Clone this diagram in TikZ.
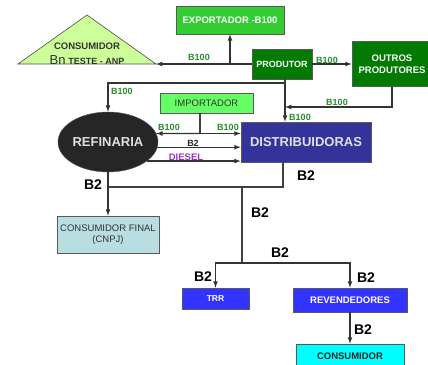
\documentclass[tikz,border=0pt]{standalone}
\usepackage{fontspec}
\setmainfont{Liberation Sans}
\usetikzlibrary{shapes.geometric}
\definecolor{verdeesc}{RGB}{0,122,0}
\definecolor{verdemed}{RGB}{51,204,51}
\definecolor{verdecla}{RGB}{102,255,102}
\definecolor{verdetri}{RGB}{204,255,153}
\definecolor{rotverde}{RGB}{40,140,40}
\definecolor{azulesc}{RGB}{51,51,153}
\definecolor{azul}{RGB}{51,51,255}
\definecolor{azulcla}{RGB}{184,222,226}
\definecolor{ciano}{RGB}{0,255,255}
\definecolor{roxo}{RGB}{153,51,204}
\tikzset{
  caixa/.style={draw=black!65, line width=0.6pt, inner sep=0pt, align=center},
  seta/.style={-latex, line width=1.2pt, draw=black!80},
  linha/.style={line width=1.2pt, draw=black!75},
  rot/.style={font=\bfseries\fontsize{9}{10}\selectfont, text=rotverde, inner sep=0pt},
  bdois/.style={font=\bfseries\fontsize{14}{15}\selectfont, inner sep=0pt},
}
\begin{document}
\begin{tikzpicture}[x=1pt,y=-1pt]
      \useasboundingbox (0,0) rectangle (428,364);
      \clip (0,0) rectangle (428,364);
      \draw[fill=verdetri, draw=black!70, line width=0.6pt] (87,15) -- (156,64) -- (18,64) -- cycle;
      \coordinate (tri) at (156,64);
      \node[inner sep=0pt, text=black!80, font=\bfseries\fontsize{9.5}{10}\selectfont] (consa) at (87,46) {CONSUMIDOR};
      \node[inner sep=0pt, text=black!80, anchor=base] (consb) at (87,64)
        {{\fontsize{13}{14}\selectfont Bn} {\bfseries\fontsize{9}{10}\selectfont TESTE - ANP}};
      \node[caixa, fill=verdemed, text=white, minimum width=108, minimum height=28,
        font=\bfseries\fontsize{9.5}{10}\selectfont] (expo) at (230,20) {EXPORTADOR -B100};
      \node[caixa, fill=verdeesc, text=white, minimum width=60, minimum height=30,
        font=\bfseries\fontsize{9}{10}\selectfont] (prod) at (282,64) {PRODUTOR};
      \node[caixa, fill=verdeesc, text=white, minimum width=80, minimum height=45,
        font=\bfseries\fontsize{9.5}{12}\selectfont] (outros) at (392,64) {OUTROS\\PRODUTORES};
      \node[caixa, fill=verdecla, text=black!80, minimum width=93, minimum height=20,
        font=\fontsize{9.5}{10}\selectfont] (imp) at (206.5,103) {IMPORTADOR};
      \node[ellipse, draw=black!65, fill=black!85, text=black!12, minimum width=100, minimum height=60,
        inner sep=0pt, font=\bfseries\fontsize{13}{14}\selectfont] (ref) at (108,142) {REFINARIA};
      \node[caixa, fill=azulesc, text=black!12, minimum width=130, minimum height=40,
        font=\bfseries\fontsize{13}{14}\selectfont] (dist) at (306,142) {DISTRIBUIDORAS};
      \node[caixa, fill=azulcla, text=black!80, minimum width=102, minimum height=37,
        font=\fontsize{9.5}{11.5}\selectfont] (cf) at (108,234.5) {CONSUMIDOR FINAL\\(CNPJ)};
      \node[caixa, fill=azul, text=white, minimum width=67, minimum height=21,
        font=\bfseries\fontsize{8.5}{10}\selectfont] (trr) at (215.5,298.5) {TRR};
      \node[caixa, fill=azul, text=white, minimum width=114, minimum height=24,
        font=\bfseries\fontsize{9.5}{10}\selectfont] (rev) at (350,300) {REVENDEDORES};
      \node[caixa, fill=ciano, text=black!85, minimum width=108, minimum height=24,
        font=\bfseries\fontsize{9.5}{10}\selectfont] (cons) at (350,356) {CONSUMIDOR};
      \coordinate (je) at (230,64);
      \coordinate (jo) at (285,107);
      \coordinate (pa) at (285,79);
      \coordinate (pb) at (285,83);
      \coordinate (ia) at (200,113);
      \coordinate (ib) at (200,133.5);
      \coordinate (da) at (283,162);
      \coordinate (db) at (108,187);
      \coordinate (dc) at (242,187);
      \coordinate (dd) at (242,263);
      \begin{scope}[linha]
        \draw[seta] (prod) to (tri);
        \draw[seta] (je) to (expo);
        \draw[seta] (prod) to (outros);
        \draw[seta] (outros) |- (jo);
        \draw[seta] (pa) to (pa |- dist.north);
        \draw (pb) to (pa);
        \draw[seta] (pb) -| (ref);
        \draw (ia) to (ib);
        \draw[seta] (ib) to (ref.10);
        \draw[seta] (ib) to (ib -| dist.west);
        \draw[seta] (ref.-6) to (ref.-6 -| dist.west);
        \draw[seta] (ref.-26) to (ref.-26 -| dist.west);
        \draw (da) |- (db);
        \draw[seta] (ref) to (cf);
        \draw (dc) to (dd);
        \draw[seta] (dd) -| (trr);
        \draw[seta] (dd) -| (rev);
        \draw[seta] (rev) to (cons);
      \end{scope}
      \node[rot] (l1) at (199,57) {B100};
      \node[rot] (l2) at (327,60) {B100};
      \node[rot] (l3) at (337,102) {B100};
      \node[rot] (l4) at (300,117) {B100};
      \node[rot] (l5) at (122,91) {B100};
      \node[rot] (l6) at (169,127) {B100};
      \node[rot] (l7) at (228,127) {B100};
      \node[inner sep=0pt, font=\bfseries\fontsize{9}{10}\selectfont, text=black!85] (l8) at (193,143) {B2};
      \node[inner sep=0pt, font=\bfseries\fontsize{9.5}{10}\selectfont, text=roxo] (l9) at (186,157) {DIESEL};
      \node[bdois] (b1) at (93,185) {B2};
      \node[bdois] (b2) at (306,176) {B2};
      \node[bdois] (b3) at (260,213) {B2};
      \node[bdois] (b4) at (280,253) {B2};
      \node[bdois] (b5) at (203,277) {B2};
      \node[bdois] (b6) at (366,278) {B2};
      \node[bdois] (b7) at (363,330) {B2};
    \end{tikzpicture}
\end{document}
